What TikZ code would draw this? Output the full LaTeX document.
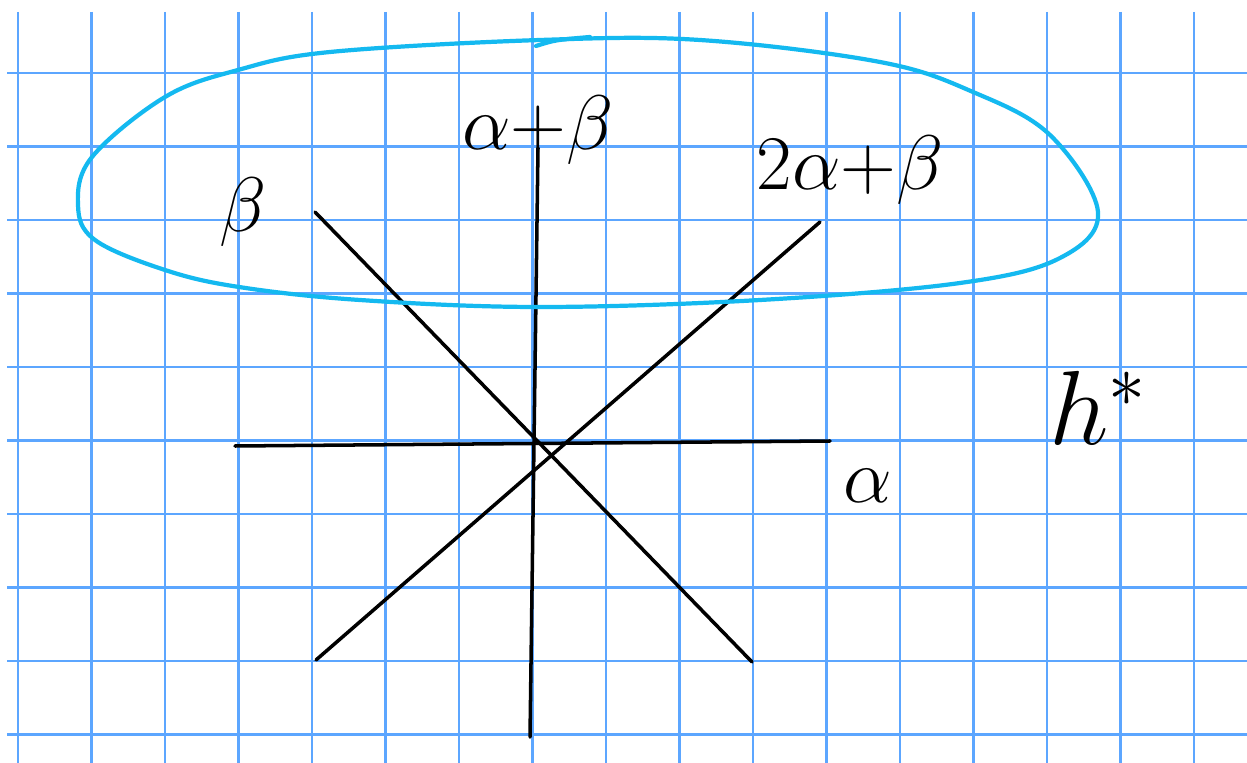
\RequirePackage{fix-cm}
\documentclass[tikz,border=0pt]{standalone}
\usepackage{amssymb}
\usetikzlibrary{calc}
\definecolor{gridblue}{RGB}{92,166,255}
\definecolor{loopblue}{RGB}{20,185,240}
\tikzset{
  gridline/.style={gridblue,line width=1.6pt},
  rootline/.style={black,line width=2pt,line cap=round},
  hand/.style={font=\fontsize{44}{48}\selectfont,inner sep=0pt}
}
\begin{document}
\begin{tikzpicture}[x=0.02cm,y=-0.02cm]
   \useasboundingbox (0,0) rectangle (1247,763);
   \fill[white] (0,0) rectangle (1247,763);
   % squared paper
   \foreach \k in {0,...,16}
     \draw[gridline] ({18+73.5*\k},12) -- ({18+73.5*\k},763);
   \foreach \k in {0,...,9}
     \draw[gridline] (7,{73+73.5*\k}) -- (1247,{73+73.5*\k});
   % end points of the roots
   \coordinate (aL) at (235,446);
   \coordinate (aR) at (830,441);
   \coordinate (abT) at (538,148);
   \coordinate (abB) at (530,737);
   \coordinate (bT) at (315,212);
   \coordinate (bB) at (752,662);
   \coordinate (tabT) at (820,222);
   \coordinate (tabB) at (316,660);
   \draw[rootline] (aL) -- (aR);
   \draw[rootline] (abT) -- (abB);
   \draw[rootline] (bT) -- (bB);
   \draw[rootline] (tabT) -- (tabB);
   % labels
   \node[hand] (al) at (868,486) {$\alpha$};
   \node[hand] (be) at (243,212) {$\beta$};
   \node[hand] (ab) at (538,130) {$\alpha{+}\beta$};
   \node[hand] (tab) at (850,170) {$2\alpha{+}\beta$};
   \node[hand,font=\fontsize{60}{64}\selectfont] (hs) at (1098,408) {$h^{*}$};
   % the loop round the positive roots
   \draw[loopblue,line width=2.4pt,line cap=round] plot[smooth cycle,tension=0.6] coordinates {
      (78,205) (92,157) (165,97) (238,70) (330,52) (540,40) (700,40)
      (880,62) (973,92) (1050,135) (1098,212) (1060,258) (960,283)
      (760,300) (540,307) (360,300) (239,287) (165,270) (95,240)};
   \draw[loopblue,line width=2.4pt,line cap=round] (536,46) .. controls (555,40) .. (590,37);
\end{tikzpicture}
\end{document}
